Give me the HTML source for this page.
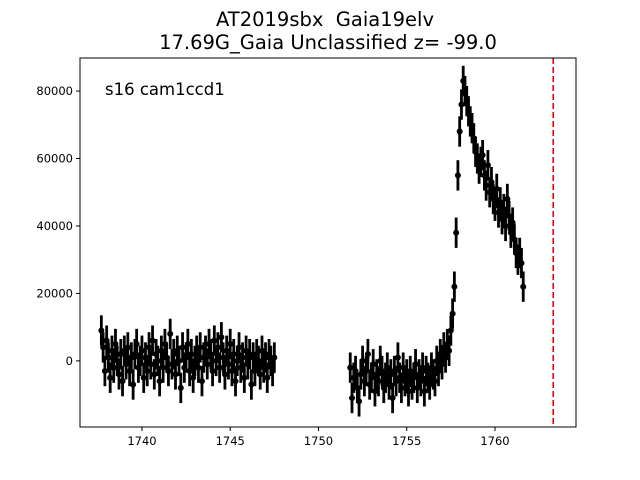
<!DOCTYPE html>
<html><head><meta charset="utf-8"><style>
body{margin:0;background:#fff}
svg{display:block;font-family:"DejaVu Sans","Liberation Sans",sans-serif}
</style></head><body>
<svg id="c" width="640" height="480" xmlns="http://www.w3.org/2000/svg">
<rect width="640" height="480" fill="#fff"/>
<text x="325" y="26" font-size="19.5" text-anchor="middle" xml:space="preserve" style="white-space:pre">AT2019sbx  Gaia19elv</text>
<text x="328" y="49" font-size="19.5" text-anchor="middle">17.69G_Gaia Unclassified z= -99.0</text>
<g id="marks"></g>
<line x1="553" y1="58" x2="553" y2="427" stroke="#e00" stroke-width="1.6" stroke-dasharray="6,3" id="vline"/>
<rect x="80" y="58" width="496" height="369" fill="none" stroke="#000" stroke-width="1"/>
<g id="axes" font-size="11.5"></g>
<text x="105" y="95" font-size="16.5">s16 cam1ccd1</text>
</svg>
<script>
const xTicks=[1740,1745,1750,1755,1760];
const yTicks=[0,20000,40000,60000,80000];
const refLineX=1763.3;
const seg1Start=1737.7;
const seg1Flux=[9,4,-3,6,1,-5,3,-2,5,0,-4,2,-6,3,-1,4,-3,1,-7,2,5,-2,0,3,-5,1,-3,4,-1,6,-4,2,0,-6,3,-2,5,1,-3,8,-1,2,-4,3,0,-8,4,-2,1,5,-3,2,-5,0,3,-2,4,-6,1,3,-1,5,2,-3,6,0,4,-2,7,1,-4,3,-1,5,-3,2,-6,0,4,-2,1,-5,3,-1,2,-7,1,-3,2,0,-4,3,-2,1,-5,2,0,-3,1];
const seg2Start=1751.8;
const seg2Flux=[-2,-11,-5,-3,-8,-12,-4,0,-6,-3,2,-7,-5,-1,-9,-4,-6,0,-3,-8,-5,-2,-7,-4,-11,-3,-6,1,-5,-8,-2,-6,-4,-9,-3,-7,-5,-1,-8,-4,-6,-2,-9,-3,-5,-7,-2,-4,-6,0,-3,2,-1,4,1,5,3,9,14,22,38,55,68,76,83,80,77,74,71,69,66,62,60,57,59,61,55,52,58,50,53,48,46,51,44,47,42,45,40,48,43,38,41,36,32,30,32,29,22];
const seg2Step=0.1;
const seg1Step=0.1;
const X0=80,X1=576,Y0=427,Y1=58;
const xmin=1736.49,xmax=1764.59,ymin=-19600,ymax=89800;
const xs=v=>X0+(v-xmin)/(xmax-xmin)*(X1-X0);
const ys=v=>Y0-(v-ymin)/(ymax-ymin)*(Y0-Y1);
const NS="http://www.w3.org/2000/svg";
const marks=document.getElementById('marks');
const axes=document.getElementById('axes');
function pt(t,f){
  const x=xs(t),y=ys(f*1000);
  const l=document.createElementNS(NS,'line');
  l.setAttribute('x1',x);l.setAttribute('x2',x);
  l.setAttribute('y1',ys(f*1000+4500));l.setAttribute('y2',ys(f*1000-4500));
  l.setAttribute('stroke','#000');l.setAttribute('stroke-width','2.8');
  
  
  marks.appendChild(l);
  const c=document.createElementNS(NS,'circle');
  c.setAttribute('cx',x);c.setAttribute('cy',y);c.setAttribute('r','3');c.setAttribute('fill','#000');
  
  
  marks.appendChild(c);
}
seg1Flux.forEach((f,i)=>pt(seg1Start+i*seg1Step,f));
seg2Flux.forEach((f,i)=>pt(seg2Start+i*seg2Step,f));
const vl=document.getElementById('vline');
vl.setAttribute('x1',xs(refLineX));vl.setAttribute('x2',xs(refLineX));
xTicks.forEach(t=>{
  const x=xs(t);
  const l=document.createElementNS(NS,'line');
  l.setAttribute('x1',x);l.setAttribute('x2',x);l.setAttribute('y1',Y0);l.setAttribute('y2',Y0+4);l.setAttribute('stroke','#000');
  
  
  axes.appendChild(l);
  const tx=document.createElementNS(NS,'text');
  tx.setAttribute('x',x);tx.setAttribute('y',Y0+18);tx.setAttribute('text-anchor','middle');tx.textContent=t;
  
  
  axes.appendChild(tx);
});
yTicks.forEach(t=>{
  const y=ys(t);
  const l=document.createElementNS(NS,'line');
  l.setAttribute('x1',X0-4);l.setAttribute('x2',X0);l.setAttribute('y1',y);l.setAttribute('y2',y);l.setAttribute('stroke','#000');
  
  
  axes.appendChild(l);
  const tx=document.createElementNS(NS,'text');
  tx.setAttribute('x',X0-7);tx.setAttribute('y',y+4);tx.setAttribute('text-anchor','end');tx.textContent=t;
  
  
  axes.appendChild(tx);
});
</script>
</body></html>
